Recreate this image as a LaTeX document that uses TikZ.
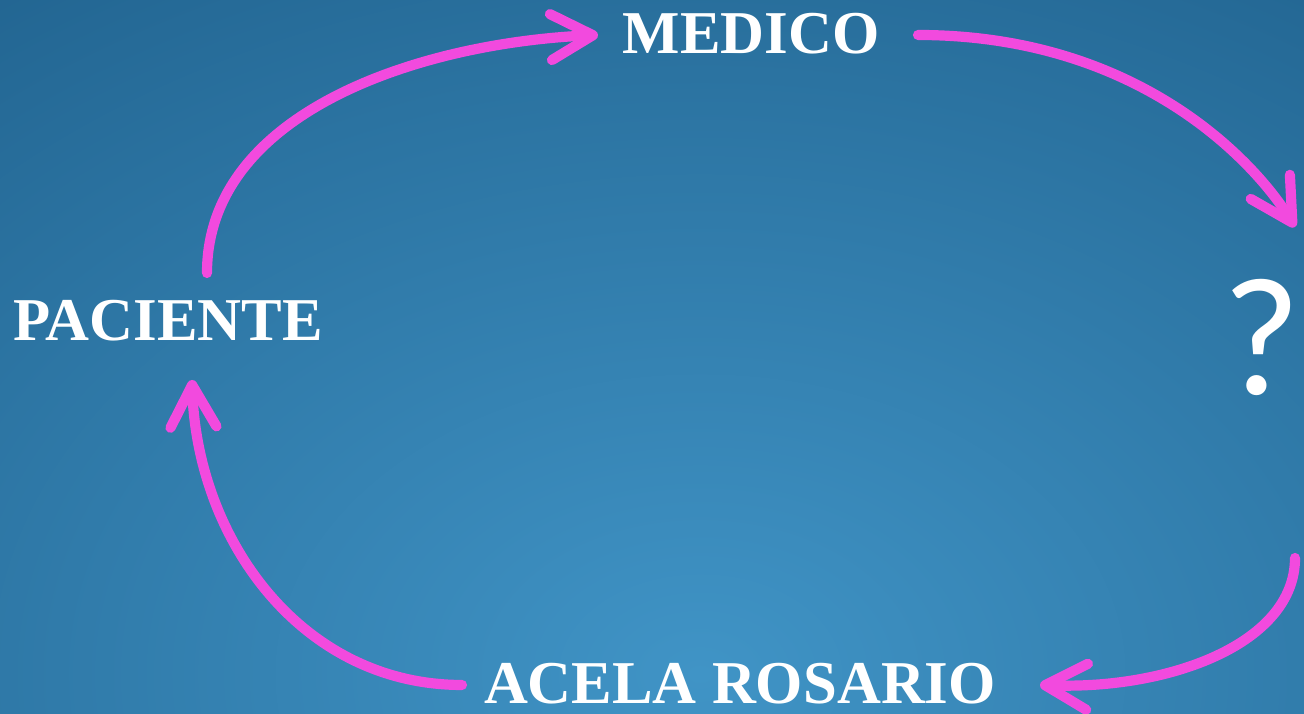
\documentclass[tikz,border=0pt]{standalone}
\usepackage{fontspec}
\setmainfont{Liberation Serif}
\newfontfamily\qfont{Carlito}
\usetikzlibrary{positioning,arrows.meta}

\definecolor{fondoin}{RGB}{64,148,198}
\definecolor{fondoout}{RGB}{22,82,124}
\definecolor{rosa}{RGB}{242,74,222}

\begin{document}
\begin{tikzpicture}[node distance=4cm,on grid,
    label/.style={text=white,inner sep=0pt,font=\fontsize{17.3}{20}\selectfont\bfseries},
    flecha/.style={draw=rosa,line width=2.9pt,line cap=round,
      -{Straight Barb[length=4.2mm,width=4.6mm,round]}}]
   \path[use as bounding box] (0,0) rectangle (13.04,7.14);
   \begin{scope}
     \clip (0,0) rectangle (13.04,7.14);
     \shade[inner color=fondoin,outer color=fondoout] (7,0.4) ellipse (17cm and 12cm);
   \end{scope}

   \node[label] (paciente) at (1.68,3.93) {PACIENTE};
   \node[label] (medico) [above right=2.87cm and 5.83cm of paciente] {MEDICO};
   \node[text=white,inner sep=0pt,font=\qfont\fontsize{48}{56}\selectfont]
      (pregunta) [below right=0.16cm and 10.94cm of paciente] {?};
   \node[label] (acela) [below right=3.63cm and 5.72cm of paciente] {ACELA ROSARIO};

   \draw[flecha] ([shift={(0.39,0.48)}]paciente.center)
      .. controls +(0,1.6) and +(-1.8,-0.08) .. ([shift={(-1.53,-0.01)}]medico.center);
   \draw[flecha] ([shift={(1.67,-0.01)}]medico.center)
      .. controls +(2.2,0) and +(-0.4,0.65) .. ([shift={(0.33,1.10)}]pregunta.center);
   \draw[flecha] ([shift={(0.33,-2.21)}]pregunta.center)
      .. controls +(0,-0.85) and +(1.3,-0.05) .. ([shift={(3.00,-0.01)}]acela.center);
   \draw[flecha] ([shift={(-2.78,-0.01)}]acela.center)
      .. controls +(-1.6,0) and +(0.05,-1.6) .. ([shift={(0.24,-0.59)}]paciente.center);
\end{tikzpicture}
\end{document}
